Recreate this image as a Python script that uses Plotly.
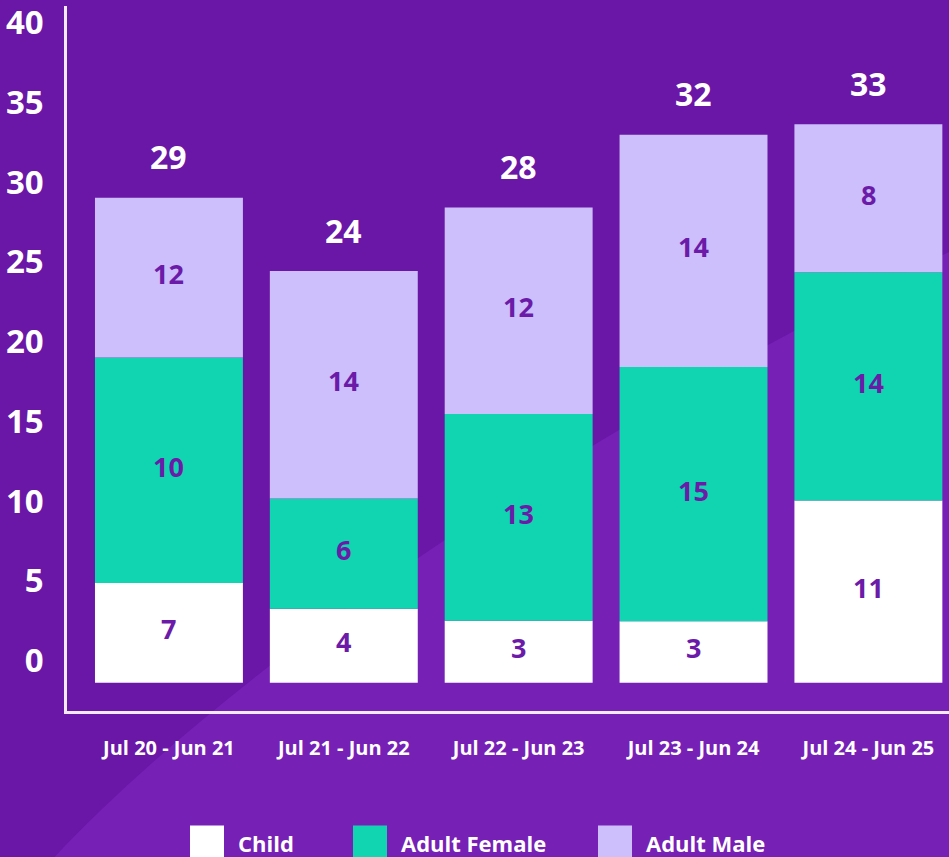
import plotly.graph_objects as go

# ---- data ----
periods = ["Jul 20 - Jun 21", "Jul 21 - Jun 22", "Jul 22 - Jun 23", "Jul 23 - Jun 24", "Jul 24 - Jun 25"]
series_names = ["Child", "Adult Female", "Adult Male"]

# labelled values shown on the chart
child = [7, 4, 3, 3, 11]
adult_female = [10, 6, 13, 15, 14]
adult_male = [12, 14, 12, 14, 8]
totals = [29, 24, 28, 32, 33]

# segment heights as drawn in the picture
child_drawn = [6.26, 4.64, 3.89, 3.85, 11.43]
adult_female_drawn = [14.14, 6.92, 12.96, 15.95, 14.33]
adult_male_drawn = [10.03, 14.27, 12.96, 14.58, 9.28]

y_ticks = [0, 5, 10, 15, 20, 25, 30, 35, 40]

# ---- style ----
BG = "#6a16a6"
BG_LIGHT = "#7620b6"
TEXT_PURPLE = "#6b1ba8"
COLORS = ["#ffffff", "#10d5b0", "#cdbffb"]
FONT = "Open Sans"
BASE = -1.4

W, H = 949, 857
ML, MR, MT, MB = 67, 0, 3, 146
PW, PH = W - ML - MR, H - MT - MB


def px(x):
    return (x - ML) / PW


def py(y):
    return (H - MB - y) / PH


fig = go.Figure()

drawn = [child_drawn, adult_female_drawn, adult_male_drawn]
labels = [child, adult_female, adult_male]

bases = [BASE] * len(periods)
for name, vals, labs, color in zip(series_names, drawn, labels, COLORS):
    fig.add_trace(go.Bar(
        x=list(range(len(periods))),
        y=vals,
        base=bases,
        name=name,
        marker=dict(color=color, line=dict(width=0)),
        width=0.846,
        showlegend=False,
        hoverinfo="skip",
    ))
    # segment value labels, centred on each segment
    for i, (b, v, lab) in enumerate(zip(bases, vals, labs)):
        fig.add_annotation(
            x=i, y=b + v / 2, text=str(lab), showarrow=False,
            yanchor="middle", xref="x", yref="y", yshift=4,
            font=dict(family=FONT, size=27, color=TEXT_PURPLE, weight="bold"),
        )
    bases = [b + v for b, v in zip(bases, vals)]

# totals above bars
for i, (top, tot) in enumerate(zip(bases, totals)):
    fig.add_annotation(
        x=i, y=top, text=str(tot), showarrow=False, yshift=41,
        yanchor="middle", xref="x", yref="y",
        font=dict(family=FONT, size=32, color="white", weight="bold"),
    )

# background light wedge
path = (f"M {px(40)},{py(870)} L {px(55)},{py(857)} "
        f"C {px(250)},{py(650)} {px(600)},{py(420)} {px(949)},{py(250)} "
        f"L {px(960)},{py(870)} Z")
fig.add_shape(type="path", path=path, xref="paper", yref="paper",
              fillcolor=BG_LIGHT, line=dict(width=0), layer="below")

# manual legend with large square swatches
legend_x = [190, 353, 598]
for name, color, lx in zip(series_names, COLORS, legend_x):
    fig.add_shape(type="rect", xref="paper", yref="paper",
                  x0=px(lx), x1=px(lx + 34), y0=py(826), y1=py(862),
                  fillcolor=color, line=dict(width=0), layer="above")
    fig.add_annotation(
        x=px(lx + 46), y=py(844), xref="paper", yref="paper",
        text=name, showarrow=False, xanchor="left", yanchor="middle",
        font=dict(family=FONT, size=22, color="white", weight="bold"),
    )

fig.update_layout(
    width=W, height=H,
    margin=dict(l=ML, r=MR, t=MT, b=MB),
    paper_bgcolor=BG,
    plot_bgcolor="rgba(0,0,0,0)",
    barmode="overlay",
    showlegend=False,
    font=dict(family=FONT, color="white"),
)
fig.update_xaxes(
    range=[-0.583, 4.461],
    tickmode="array", tickvals=list(range(len(periods))), ticktext=periods,
    tickfont=dict(family=FONT, size=20, color="white", weight="bold"),
    showline=True, linecolor="#f2eaf8", linewidth=2.5,
    showgrid=False, zeroline=False, ticks="", ticklabelstandoff=17,
)
fig.update_yaxes(
    range=[-3.18, 41.06],
    tickmode="array", tickvals=y_ticks, ticktext=[str(t) for t in y_ticks],
    tickfont=dict(family=FONT, size=33, color="white", weight="bold"),
    showline=True, linecolor="#f2eaf8", linewidth=2.5,
    showgrid=False, zeroline=False, ticks="", ticklabelstandoff=14,
    ticklabeloverflow="allow",
)

fig.write_html(
    "out.html",
    config={"displayModeBar": False},
    post_script="document.body.style.margin='0';document.body.style.overflow='hidden';",
)
